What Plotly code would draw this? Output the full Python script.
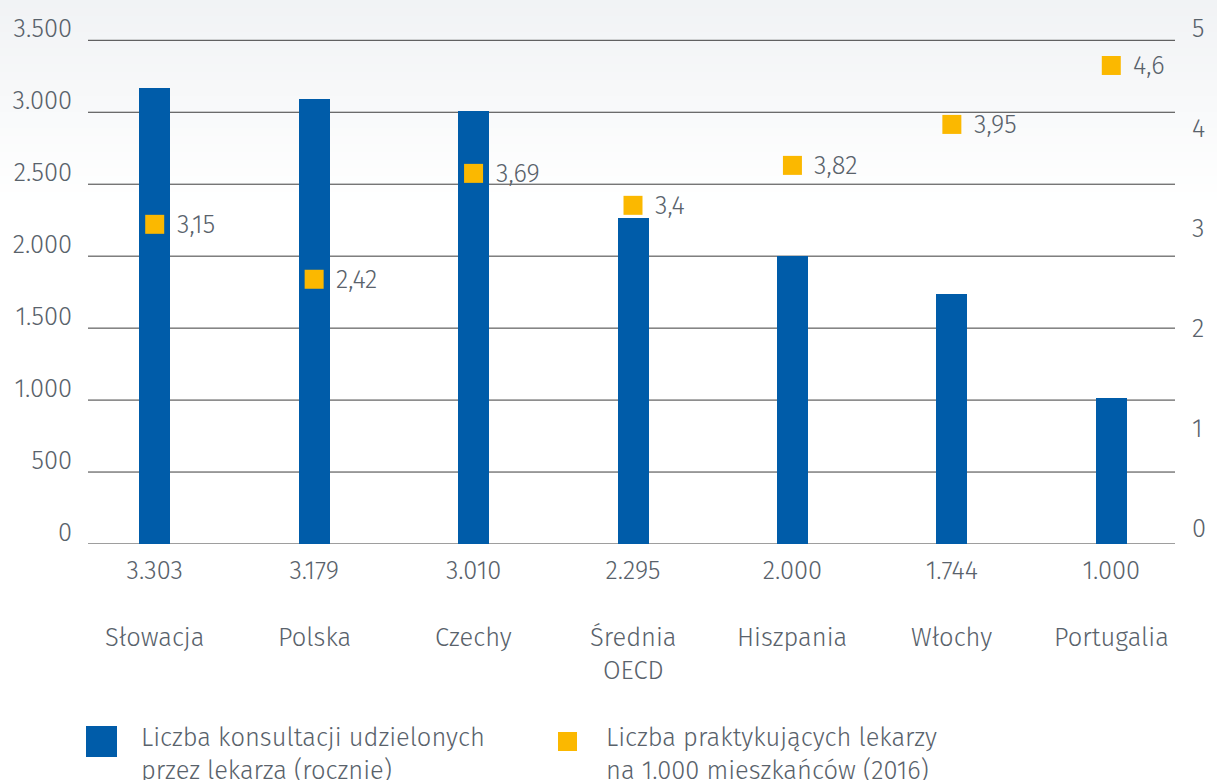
import plotly.graph_objects as go

# ---- data ----
countries = ["Słowacja", "Polska", "Czechy", "Średnia<br>OECD", "Hiszpania", "Włochy", "Portugalia"]
consult_labels = ["3.303", "3.179", "3.010", "2.295", "2.000", "1.744", "1.000"]
consult_bar_heights = [3167, 3090, 3007, 2264, 2000, 1736, 1016]   # as drawn in picture
doctors_labels = ["3,15", "2,42", "3,69", "3,4", "3,82", "3,95", "4,6"]
doctors_marker_heights = [3.16, 2.61, 3.67, 3.35, 3.75, 4.16, 4.75]  # as drawn in picture
left_ticks = [0, 500, 1000, 1500, 2000, 2500, 3000, 3500]
right_ticks = [0, 1, 2, 3, 4, 5]
legend_names = ["Liczba konsultacji udzielonych<br>przez lekarza (rocznie)",
                "Liczba praktykujących lekarzy<br>na 1.000 mieszkańców (2016)"]

BLUE = "#005CA9"
YELLOW = "#FBB800"
TXT = "#59626b"
FONT = "Fira Sans Light, Fira Sans, Open Sans, sans-serif"
FS = 25.5
FW = 300

W, H = 1217, 780
# axis mapping in pixels
Y0_PX, Y3500_PX = 544.0, 40.3
LPX = (Y0_PX - Y3500_PX) / 3500.0        # px per unit, left axis
R0_PX, RPX = 540.0, 99.9                 # right axis: 0 at 540, px per unit
TOP_PX = 12.0                            # plot-area top, extra room for top labels
L_TOP = (Y0_PX - TOP_PX) / LPX
R_BOT = -(Y0_PX - R0_PX) / RPX
R_TOP = (R0_PX - TOP_PX) / RPX

ML = 75
MR = W - 1191
MT = int(round(TOP_PX))
MB = H - int(Y0_PX)
PW = W - ML - MR
PH = H - MT - MB


def px_x(x):  # pixel -> paper
    return (x - ML) / PW


def px_y(y):
    return (H - MB - y) / PH


x_idx = list(range(len(countries)))
font = dict(family=FONT, size=FS, color=TXT, weight=FW)

fig = go.Figure()
fig.add_trace(go.Bar(
    x=x_idx, y=consult_bar_heights, width=31 / (PW / 7),
    marker=dict(color=BLUE, line=dict(width=0)), showlegend=False,
    hoverinfo="skip"))
fig.add_trace(go.Scatter(
    x=x_idx, y=doctors_marker_heights, yaxis="y2", mode="markers",
    marker=dict(symbol="square", size=19, color=YELLOW, line=dict(width=0)),
    showlegend=False, hoverinfo="skip"))

shapes = []
# faint top gradient background
top_col = (241, 243, 245)
n = 25
for i in range(n):
    y0p, y1p = i * 8, (i + 1) * 8
    t = i / n
    c = tuple(int(round(top_col[k] + (255 - top_col[k]) * t)) for k in range(3))
    shapes.append(dict(type="rect", xref="paper", yref="paper",
                       x0=px_x(0), x1=px_x(W), y0=px_y(y1p), y1=px_y(y0p),
                       fillcolor="rgb(%d,%d,%d)" % c, line=dict(width=0), layer="below"))
# gridlines
for v in left_ticks:
    shapes.append(dict(type="line", xref="paper", yref="y",
                       x0=px_x(88), x1=px_x(1175), y0=v, y1=v,
                       line=dict(color="#3d3d3d", width=1), layer="below"))
# legend swatches
shapes.append(dict(type="rect", xref="paper", yref="paper",
                   x0=px_x(86), x1=px_x(117), y0=px_y(757), y1=px_y(726),
                   fillcolor=BLUE, line=dict(width=0)))
shapes.append(dict(type="rect", xref="paper", yref="paper",
                   x0=px_x(558), x1=px_x(577), y0=px_y(751), y1=px_y(732),
                   fillcolor=YELLOW, line=dict(width=0)))

annotations = []
for i, lab in enumerate(doctors_labels):
    annotations.append(dict(x=x_idx[i], y=doctors_marker_heights[i], yref="y2", xref="x",
                            text=lab, showarrow=False, xanchor="left", yanchor="middle",
                            xshift=20, font=font))
for i, name in enumerate(countries):
    annotations.append(dict(x=x_idx[i], y=px_y(620), xref="x", yref="paper",
                            text=name, showarrow=False, xanchor="center", yanchor="top",
                            font=font))
annotations.append(dict(x=px_x(139), y=px_y(720), xref="paper", yref="paper",
                        text=legend_names[0], showarrow=False, xanchor="left", yanchor="top",
                        align="left", font=font))
annotations.append(dict(x=px_x(604), y=px_y(720), xref="paper", yref="paper",
                        text=legend_names[1], showarrow=False, xanchor="left", yanchor="top",
                        align="left", font=font))

fig.update_layout(
    width=W, height=H, margin=dict(l=ML, r=MR, t=MT, b=MB, autoexpand=False),
    paper_bgcolor="white", plot_bgcolor="rgba(0,0,0,0)",
    separators=",.",
    font=font,
    xaxis=dict(range=[-0.5, 6.5], tickvals=x_idx, ticktext=consult_labels,
               showgrid=False, zeroline=False, showline=False, ticks="",
               ticklabelstandoff=8, tickfont=font, fixedrange=True, automargin=False),
    yaxis=dict(range=[0, L_TOP], tickvals=left_ticks, tickformat=",d",
               showgrid=False, zeroline=False, showline=False, ticks="",
               ticklabelstandoff=2, ticklabelshift=-12, tickfont=font, fixedrange=True,
               automargin=False),
    yaxis2=dict(range=[R_BOT, R_TOP], tickvals=right_ticks, overlaying="y", side="right",
                showgrid=False, zeroline=False, showline=False, ticks="",
                ticklabelstandoff=0, ticklabelshift=-12, tickfont=font, fixedrange=True,
                automargin=False),
    shapes=shapes, annotations=annotations, bargap=0,
)

fig.write_html(
    "out.html",
    config={"displayModeBar": False},
    post_script="document.body.style.margin='0';"
                "document.body.style.overflow='hidden';"
                "document.documentElement.style.overflow='hidden';",
)
